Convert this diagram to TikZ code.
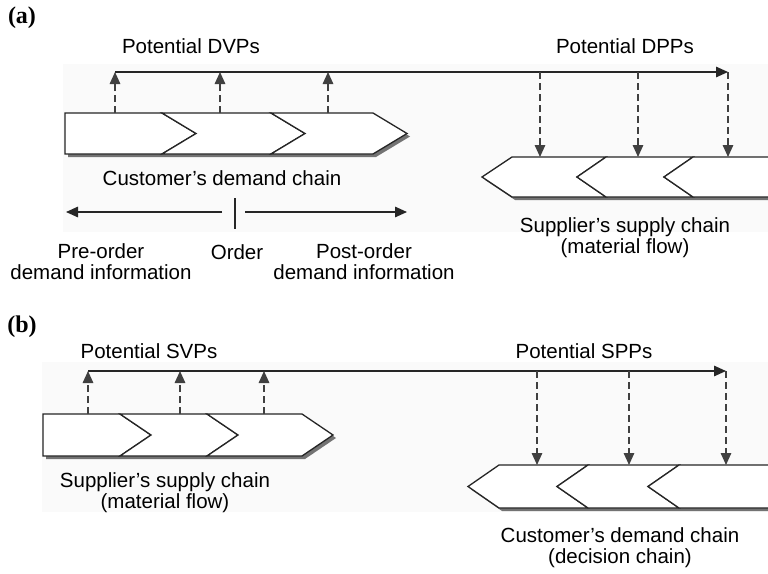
\documentclass[tikz,border=0pt]{standalone}
\usepackage{fontspec}
\setmainfont{Liberation Sans}
\newfontfamily\panelfont{Liberation Serif}
\usetikzlibrary{arrows.meta}

\tikzset{
  lbl/.style={inner sep=0pt, align=center, font=\fontsize{20.5}{21}\selectfont},
  panellbl/.style={inner sep=0pt, font=\panelfont\bfseries\fontsize{24}{26}\selectfont},
  panelbg/.style={fill=black!2, draw=none},
  chainseg/.style={draw=black!85, fill=white, line width=1.3pt, line join=miter},
  chainshadow/.style={fill=black!55, draw=none},
  tip/.style={-{Triangle[length=12pt,width=10.5pt]}},
  pointline/.style={tip, draw=black!75, line width=1.4pt, dash pattern=on 7pt off 4pt},
  mainline/.style={tip, draw=black!85, line width=1.4pt},
  infoline/.style={draw=black!85, line width=1.4pt}
}

\begin{document}
\begin{tikzpicture}[x=1pt, y=-1pt]
\useasboundingbox (0,0) rectangle (768,573);

% ---------------- panel (a) ----------------
\fill[panelbg] (63,64) rectangle (768,232);
\node[panellbl] (pa) at (22,18) {(a)};
\node[lbl] (dvp) at (191,46) {Potential DVPs};
\node[lbl] (dpp) at (625,46) {Potential DPPs};

% customer's demand chain, pointing right
\fill[chainshadow] (68,116) -- (376,116) -- (410,136.5) -- (376,157) -- (68,157) -- cycle;
\draw[chainseg] (65,113) -- (162,113) -- (196,133.5) -- (162,154) -- (65,154) -- cycle;
\draw[chainseg] (162,113) -- (271,113) -- (305,133.5) -- (271,154) -- (162,154) -- (196,133.5) -- cycle;
\draw[chainseg] (271,113) -- (373,113) -- (407,133.5) -- (373,154) -- (271,154) -- (305,133.5) -- cycle;

% supplier's supply chain, pointing left
\fill[chainshadow] (485,180) -- (515,160) -- (770,160) -- (770,200) -- (515,200) -- cycle;
\draw[chainseg] (482,177) -- (512,157) -- (606,157) -- (577,177) -- (606,197) -- (512,197) -- cycle;
\draw[chainseg] (577,177) -- (606,157) -- (693,157) -- (664,177) -- (693,197) -- (606,197) -- cycle;
\draw[chainseg] (664,177) -- (693,157) -- (772,157) -- (772,197) -- (693,197) -- cycle;

% decoupling points of (a)
\coordinate (au1) at (115,113); \coordinate (at1) at (115,72);
\coordinate (au2) at (220,113); \coordinate (at2) at (220,72);
\coordinate (au3) at (328,113); \coordinate (at3) at (328,72);
\coordinate (aend) at (728,72);
\coordinate (ad1) at (540,72);  \coordinate (ab1) at (540,157);
\coordinate (ad2) at (638,72);  \coordinate (ab2) at (638,157);
\coordinate (ab3) at (728,157);

\draw[mainline] (at1) -- (aend);
\draw[pointline] (au1) -- (at1);
\draw[pointline] (au2) -- (at2);
\draw[pointline] (au3) -- (at3);
\draw[pointline] (ad1) -- (ab1);
\draw[pointline] (ad2) -- (ab2);
\draw[pointline] (aend) -- (ab3);

\node[lbl] (cdc) at (222,178) {Customer’s demand chain};
\node[lbl] (ssc) at (625,238) {Supplier’s supply chain\\(material flow)};

% order axis
\coordinate (ordl) at (222,212); \coordinate (preend) at (66,212);
\coordinate (ordr) at (245,212); \coordinate (postend) at (407,212);
\coordinate (ticktop) at (235,198); \coordinate (tickbot) at (235,229);
\draw[infoline, tip] (ordl) -- (preend);
\draw[infoline, tip] (ordr) -- (postend);
\draw[infoline] (ticktop) -- (tickbot);

\node[lbl] (pre) at (101,261.5) {Pre-order\\demand information};
\node[lbl] (ord) at (237,252) {Order};
\node[lbl] (post) at (364,261.5) {Post-order\\demand information};

% ---------------- panel (b) ----------------
\fill[panelbg] (42,362) rectangle (768,512);
\node[panellbl] (pb) at (22,327) {(b)};
\node[lbl] (svp) at (149,351) {Potential SVPs};
\node[lbl] (spp) at (584,351) {Potential SPPs};

% supplier's supply chain, pointing right
\fill[chainshadow] (46,417) -- (305,417) -- (336,438) -- (305,459) -- (46,459) -- cycle;
\draw[chainseg] (43,414) -- (120,414) -- (151,435) -- (120,456) -- (43,456) -- cycle;
\draw[chainseg] (120,414) -- (207,414) -- (238,435) -- (207,456) -- (120,456) -- (151,435) -- cycle;
\draw[chainseg] (207,414) -- (302,414) -- (333,435) -- (302,456) -- (207,456) -- (238,435) -- cycle;

% customer's demand chain, pointing left
\fill[chainshadow] (471,489.5) -- (502,468) -- (770,468) -- (770,511) -- (502,511) -- cycle;
\draw[chainseg] (468,486.5) -- (499,465) -- (588,465) -- (557,486.5) -- (588,508) -- (499,508) -- cycle;
\draw[chainseg] (557,486.5) -- (588,465) -- (679,465) -- (648,486.5) -- (679,508) -- (588,508) -- cycle;
\draw[chainseg] (648,486.5) -- (679,465) -- (772,465) -- (772,508) -- (679,508) -- cycle;

% decoupling points of (b)
\coordinate (bu1) at (88,414);  \coordinate (bt1) at (88,371);
\coordinate (bu2) at (180,414); \coordinate (bt2) at (180,371);
\coordinate (bu3) at (264,414); \coordinate (bt3) at (264,371);
\coordinate (bend) at (726,371);
\coordinate (bd1) at (537,371); \coordinate (bb1) at (537,465);
\coordinate (bd2) at (629,371); \coordinate (bb2) at (629,465);
\coordinate (bb3) at (726,465);

\draw[mainline] (bt1) -- (bend);
\draw[pointline] (bu1) -- (bt1);
\draw[pointline] (bu2) -- (bt2);
\draw[pointline] (bu3) -- (bt3);
\draw[pointline] (bd1) -- (bb1);
\draw[pointline] (bd2) -- (bb2);
\draw[pointline] (bend) -- (bb3);

\node[lbl] (ssc2) at (165,492.5) {Supplier’s supply chain\\(material flow)};
\node[lbl] (cdc2) at (620,547.5) {Customer’s demand chain\\(decision chain)};
\end{tikzpicture}
\end{document}
